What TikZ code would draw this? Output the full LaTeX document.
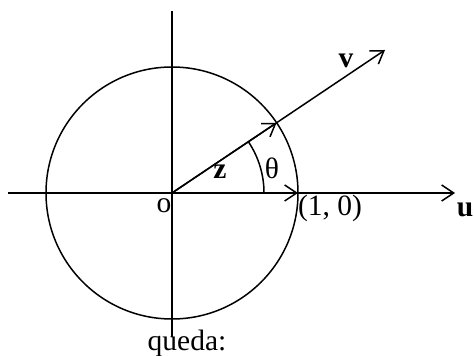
\documentclass[tikz,border=0pt]{standalone}
\usepackage{fontspec}
\setmainfont{Liberation Serif}
\usetikzlibrary{arrows.meta,calc}
\begin{document}
\begin{tikzpicture}[x=1pt,y=1pt,line width=1.5pt,
  vec/.style={-{Straight Barb[length=12pt,width=16pt,line width=1.5pt]}},
  lbl/.style={font=\fontsize{29.5}{32}\selectfont,inner sep=0pt}]
\useasboundingbox (0,0) rectangle (474,356);
\coordinate (O) at (172,163);
\coordinate (L) at (8,163);
\coordinate (U) at (455,163);
\coordinate (T) at (172,345);
\coordinate (B) at (172,19);
\coordinate (V) at (385,306);
\coordinate (Z) at (276.6,233.2);
\coordinate (E) at (298,163);
\coordinate (A) at (264,163);
\draw (O) circle[radius=126];
\draw[vec] (L) -- (U);
\draw (B) -- (T);
\draw[vec] (O) -- (V);
\draw[vec] (O) -- (Z);
\draw[vec] (O) -- (E);
\draw (A) arc[start angle=0,end angle=33.87,radius=92];
\node[lbl] (lv) at (346,295) {\textbf{v}};
\node[lbl] (lz) at (220,184) {\textbf{z}};
\node[lbl] (lt) at (272,188) {θ};
\node[lbl] (lo) at (164,150) {o};
\node[lbl] (l10) at (330,148) {(1, 0)};
\node[lbl] (lu) at (465,146) {\textbf{u}};
\node[lbl] (lq) at (187,13) {queda:};
\end{tikzpicture}
\end{document}
